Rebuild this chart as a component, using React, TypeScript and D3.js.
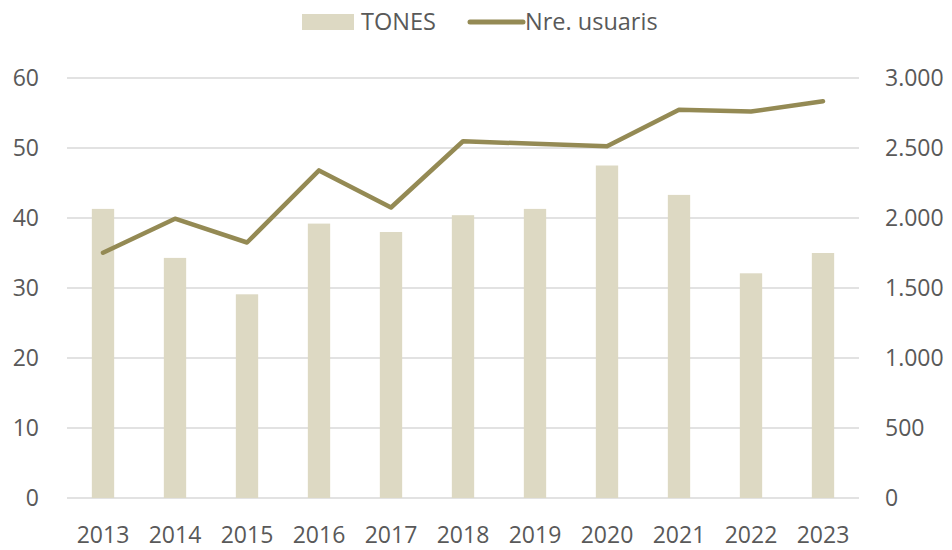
import React from "react";
import * as d3 from "d3";

const years = ["2013", "2014", "2015", "2016", "2017", "2018", "2019", "2020", "2021", "2022", "2023"];
const tones = [41.3, 34.3, 29.1, 39.2, 38.0, 40.4, 41.3, 47.5, 43.3, 32.1, 35.0];
const usuaris = [1752, 1995, 1825, 2340, 2075, 2548, 2530, 2512, 2774, 2760, 2834];
const leftTicks = [0, 10, 20, 30, 40, 50, 60];
const rightTicks = [0, 500, 1000, 1500, 2000, 2500, 3000];

const W = 952, H = 550;
const L = 67, R = 859, T = 78, B = 498;
const FONT = "'Open Sans', 'Noto Sans', sans-serif";
const TXT = "#595959";
const BAR = "#DDD9C3";
const LINE = "#948A54";
const GRID = "#D9D9D9";

export default function App() {
  const x = d3.scaleBand<string>().domain(years).range([L, R]).paddingInner(0.69).paddingOuter(0.345);
  const yL = d3.scaleLinear().domain([0, 60]).range([B, T]);
  const yR = d3.scaleLinear().domain([0, 3000]).range([B, T]);
  const fmt = (v: number) => d3.format(",")(v).replace(/,/g, ".");
  const cx = (y: string) => (x(y) as number) + x.bandwidth() / 2;
  const line = d3.line<number>().x((_, i) => cx(years[i])).y((d) => yR(d));

  return (
    <svg width={W} height={H} style={{ position: "absolute", left: 0, top: 0, background: "#fff" }} fontFamily={FONT}>
      {leftTicks.map((t) => (
        <line key={"g" + t} x1={L} x2={R} y1={yL(t)} y2={yL(t)} stroke={GRID} strokeWidth={1.3} />
      ))}
      {tones.map((v, i) => (
        <rect key={"b" + i} x={x(years[i])} y={yL(v)} width={x.bandwidth()} height={B - yL(v)} fill={BAR} />
      ))}
      <path d={line(usuaris) || ""} fill="none" stroke={LINE} strokeWidth={4.5} strokeLinejoin="round" strokeLinecap="round" />
      {leftTicks.map((t) => (
        <text key={"l" + t} x={39} y={yL(t)} dy="0.36em" textAnchor="end" fontSize={23} fill={TXT}>{t}</text>
      ))}
      {rightTicks.map((t) => (
        <text key={"r" + t} x={885} y={yR(t)} dy="0.36em" textAnchor="start" fontSize={23} fill={TXT}>{fmt(t)}</text>
      ))}
      {years.map((y) => (
        <text key={"x" + y} x={cx(y)} y={535} dy="0.36em" textAnchor="middle" fontSize={23} fill={TXT}>{y}</text>
      ))}
      <rect x={302} y={14} width={52} height={16} fill={BAR} />
      <text x={361} y={22} dy="0.36em" fontSize={23.5} fill={TXT}>TONES</text>
      <line x1={470} x2={523} y1={22} y2={22} stroke={LINE} strokeWidth={5} strokeLinecap="round" />
      <text x={525} y={22} dy="0.36em" fontSize={23.5} fill={TXT}>Nre. usuaris</text>
    </svg>
  );
}
